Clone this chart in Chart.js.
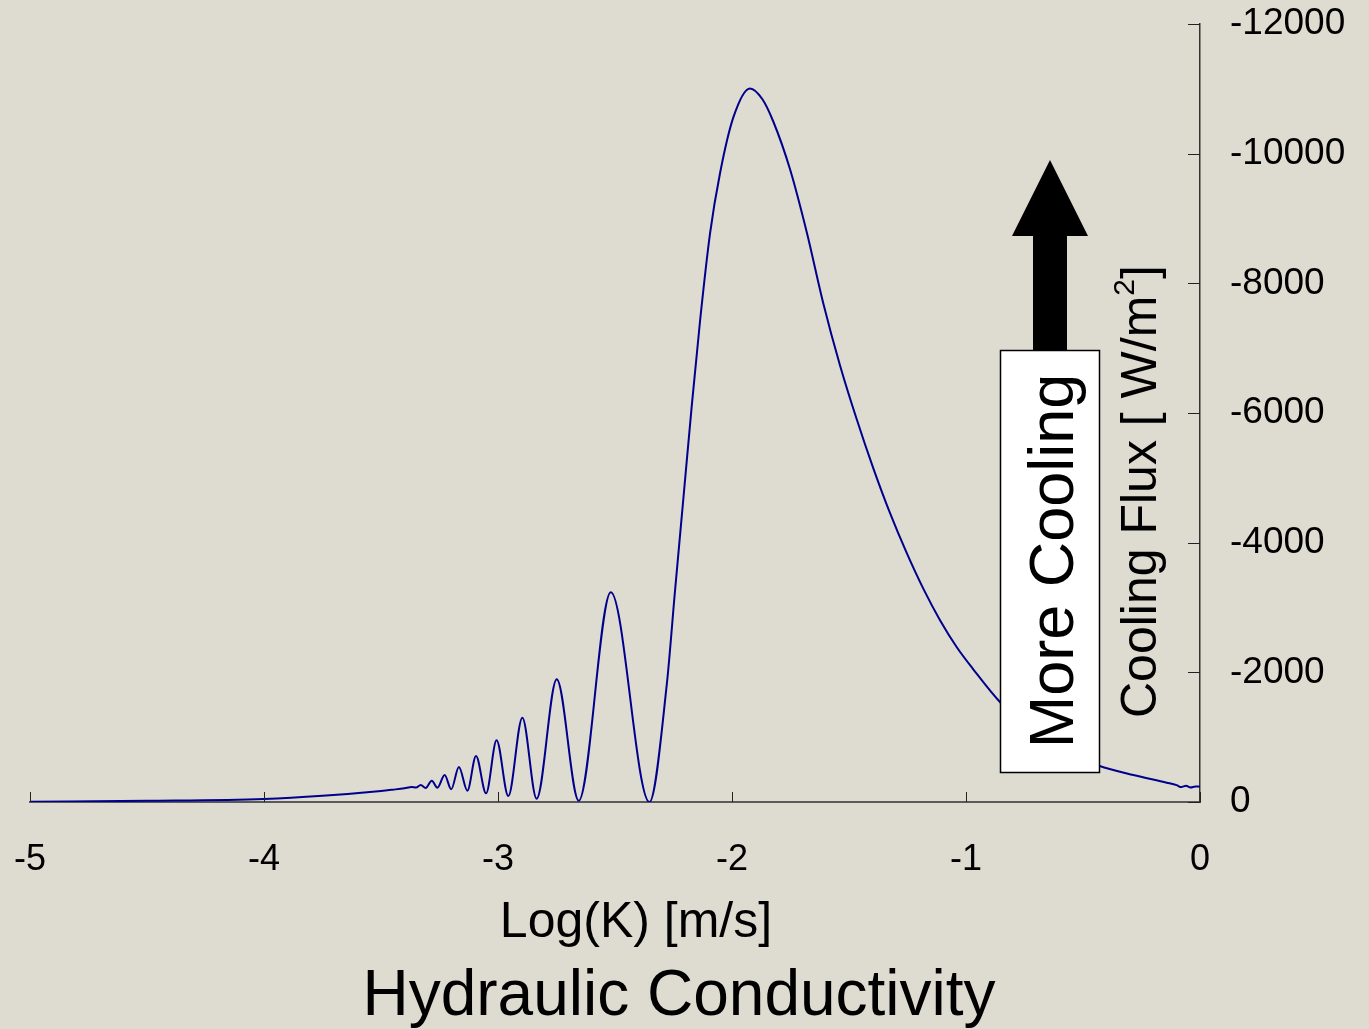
<!DOCTYPE html>
<html>
<head>
<meta charset="utf-8">
<title>Cooling flux vs hydraulic conductivity</title>
<script src="https://cdn.jsdelivr.net/npm/chart.js@4.4.0/dist/chart.umd.min.js"></script>
<style>
  body { margin: 0; background: #dedbd0; }
  #wrap { width: 1369px; height: 1029px; position: relative; }
</style>
</head>
<body>
<div id="wrap"><canvas id="fluxChart"></canvas></div>
<script>
// log10 of hydraulic conductivity [m/s]
var logK = [-5, -4.5, -4, -3.75, -3.5, -3.45, -3.4, -3.369, -3.35, -3.33, -3.309,
  -3.283, -3.259, -3.228, -3.2, -3.167, -3.131, -3.094, -3.051, -3.006, -2.956,
  -2.896, -2.835, -2.749, -2.655, -2.518, -2.353, -2.279, -2.244, -2.208, -2.172,
  -2.137, -2.094, -2.051, -1.994, -1.923, -1.87, -1.824, -1.752, -1.681, -1.61, -1.538,
  -1.467, -1.396, -1.325, -1.253, -1.182, -1.111, -1.04, -0.969, -0.852, -0.75,
  -0.64, -0.54, -0.432, -0.285, -0.142, -0.1, -0.08, -0.06, -0.04, -0.02, 0];

// cooling flux [W/m2]
var flux = [-5, -18, -46, -95, -170, -190, -212, -231, -222, -262, -216,
  -329, -221, -416, -196, -540, -175, -710, -134, -951, -92,
  -1300, -51, -1893, -20, -3234, 0, -1802, -3239, -4673, -6110,
  -7404, -8767, -9702, -10563, -11007, -10840, -10500, -9759, -8795, -7694, -6730,
  -5903, -5146, -4458, -3838, -3287, -2804, -2391, -2047, -1530, -1200,
  -930, -720, -560, -416, -298, -260, -230, -250, -225, -240, -236];

var xTicks = [-5, -4, -3, -2, -1, 0];
var yTicks = [-12000, -10000, -8000, -6000, -4000, -2000, 0];

var FONT = "'Liberation Sans', Arial, sans-serif";

var points = logK.map(function (k, i) { return { x: k, y: flux[i] }; });

// inward tick marks, the "More Cooling" box with arrow, and the titles
var extras = {
    id: 'extras',
    afterDraw: function (chart) {
        var ctx = chart.ctx;
        var xs = chart.scales.x, ys = chart.scales.y;
        var area = chart.chartArea;
        ctx.save();

        ctx.strokeStyle = '#222';
        ctx.lineWidth = 1;
        xTicks.forEach(function (t) {
            var px = Math.round(xs.getPixelForValue(t)) + 0.5;
            ctx.beginPath();
            ctx.moveTo(px, area.bottom);
            ctx.lineTo(px, area.bottom - 10);
            ctx.stroke();
        });
        yTicks.forEach(function (t) {
            var py = Math.round(ys.getPixelForValue(t)) + 0.5;
            ctx.beginPath();
            ctx.moveTo(area.right, py);
            ctx.lineTo(area.right - 12, py);
            ctx.stroke();
        });

        // arrow
        ctx.fillStyle = '#000';
        ctx.fillRect(1033, 234, 34, 118);
        ctx.beginPath();
        ctx.moveTo(1050, 160);
        ctx.lineTo(1088, 236);
        ctx.lineTo(1012, 236);
        ctx.closePath();
        ctx.fill();

        // box
        ctx.fillStyle = '#fff';
        ctx.fillRect(1000, 350, 99, 422);
        ctx.strokeStyle = '#000';
        ctx.lineWidth = 1.5;
        ctx.strokeRect(1000.5, 350.5, 99, 422);

        ctx.fillStyle = '#000';
        ctx.save();
        ctx.translate(1073, 561);
        ctx.rotate(-Math.PI / 2);
        ctx.font = '63px ' + FONT;
        ctx.textAlign = 'center';
        ctx.textBaseline = 'alphabetic';
        ctx.fillText('More Cooling', 0, 0);
        ctx.restore();

        // y axis title
        ctx.save();
        ctx.translate(1156, 718);
        ctx.rotate(-Math.PI / 2);
        ctx.textAlign = 'left';
        ctx.textBaseline = 'alphabetic';
        ctx.font = '50px ' + FONT;
        var main = 'Cooling Flux [ W/m';
        ctx.fillText(main, 0, 0);
        var w = ctx.measureText(main).width;
        ctx.font = '30px ' + FONT;
        ctx.fillText('2', w, -22);
        var w2 = ctx.measureText('2').width;
        ctx.font = '50px ' + FONT;
        ctx.fillText(']', w + w2, 0);
        ctx.restore();

        // x titles
        ctx.textAlign = 'center';
        ctx.textBaseline = 'alphabetic';
        ctx.font = '50px ' + FONT;
        ctx.fillText('Log(K) [m/s]', 636, 937);
        ctx.font = '64px ' + FONT;
        ctx.fillText('Hydraulic Conductivity', 679, 1015);

        ctx.restore();
    }
};

var ctx = document.getElementById('fluxChart').getContext('2d');
var fluxChart = new Chart(ctx, {
    type: 'line',
    data: {
        datasets: [{
            data: points,
            borderColor: '#00008c',
            borderWidth: 2,
            pointRadius: 0,
            fill: false,
            cubicInterpolationMode: 'monotone'
        }]
    },
    options: {
        responsive: true,
        maintainAspectRatio: false,
        animation: false,
        layout: { padding: { left: 30, top: 24, right: 0, bottom: 0 } },
        plugins: {
            legend: { display: false },
            tooltip: { enabled: false }
        },
        scales: {
            x: {
                type: 'linear',
                min: -5,
                max: 0,
                afterFit: function (s) {
                    s.height = 227;
                    s.paddingLeft = 0;
                    s.paddingRight = 0;
                },
                afterBuildTicks: function (s) {
                    s.ticks = xTicks.map(function (v) { return { value: v }; });
                },
                grid: { drawOnChartArea: false, drawTicks: false },
                border: { display: true, color: '#5a5a5a', width: 2 },
                ticks: {
                    padding: 36,
                    color: '#000',
                    maxRotation: 0,
                    font: { family: FONT, size: 36 },
                    callback: function (v) { return String(v); }
                }
            },
            y: {
                type: 'linear',
                position: 'right',
                reverse: true,
                min: -12000,
                max: 0,
                afterFit: function (s) {
                    s.width = 169;
                    s.paddingTop = 0;
                    s.paddingBottom = 0;
                },
                afterBuildTicks: function (s) {
                    s.ticks = yTicks.map(function (v) { return { value: v }; });
                },
                grid: { drawOnChartArea: false, drawTicks: false },
                border: { display: true, color: '#333', width: 1.5 },
                ticks: {
                    padding: 30,
                    color: '#000',
                    font: { family: FONT, size: 37 },
                    callback: function (v) { return String(v); }
                }
            }
        }
    },
    plugins: [extras]
});
</script>
</body>
</html>
